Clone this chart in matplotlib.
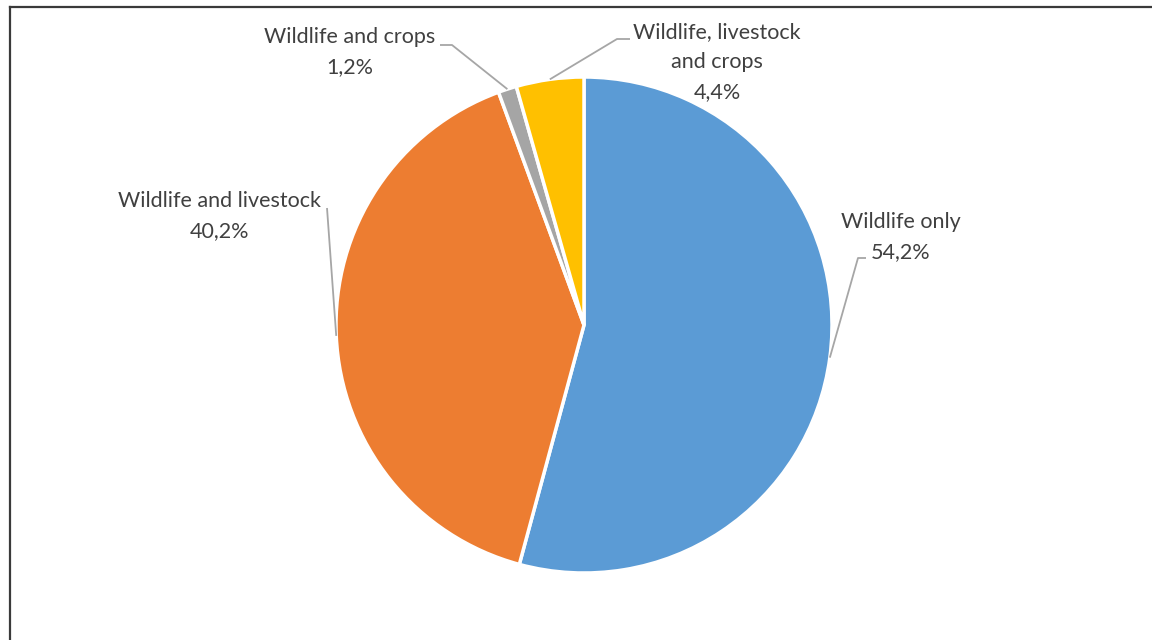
import numpy as np
import matplotlib
matplotlib.use('Agg')
import matplotlib.pyplot as plt
from matplotlib.lines import Line2D

categories = ['Wildlife only', 'Wildlife and livestock', 'Wildlife and crops',
              'Wildlife, livestock\nand crops']
shares = [54.2, 40.2, 1.2, 4.4]
colors = ['#5B9BD5', '#ED7D31', '#A5A5A5', '#FFC000']

W, H = 1152, 640
# pie centre / radius in pixels (y measured from top)
cx, cy, r = 584, 325, 248
# label block centres and leader elbows, pixels from top-left
label_xy = [(901, 237), (219, 216), (350, 52), (717, 62)]
elbow_xy = [(858, 258), (327, 208), (452, 45), (617, 39)]
tail_xy = [(866, 258), (327, 208), (440, 45), (630, 39)]

plt.rcParams['font.family'] = ['Lato', 'DejaVu Sans']

fig = plt.figure(figsize=(W / 100, H / 100), dpi=100)
ax = fig.add_axes([0, 0, 1, 1])

wedges, _ = ax.pie(shares, colors=colors, startangle=90, counterclock=False,
                   center=(cx, H - cy), radius=r,
                   wedgeprops=dict(edgecolor='white', linewidth=2.5))
ax.set_xlim(0, W)
ax.set_ylim(0, H)
ax.set_aspect('auto')
ax.axis('off')

for w, name, val, (lx, ly), (ex, ey), (tx, ty) in zip(
        wedges, categories, shares, label_xy, elbow_xy, tail_xy):
    mid = np.deg2rad((w.theta1 + w.theta2) / 2)
    px = cx + r * np.cos(mid)
    py = H - cy + r * np.sin(mid)
    ax.plot([px, ex, tx], [py, H - ey, H - ty], color='#A6A6A6', lw=1.3,
            solid_capstyle='butt', zorder=3)
    txt = f'{name}\n{val:.1f}%'.replace('.', ',')
    ax.text(lx, H - ly, txt, ha='center', va='center', fontsize=15.5,
            color='#404040', linespacing=1.65)

# chart frame (only top and left edges fall inside the image)
fig.add_artist(Line2D([10 / W, 1], [1 - 6.5 / H, 1 - 6.5 / H], color='#3A3A3A', lw=1.6))
fig.add_artist(Line2D([10 / W, 10 / W], [0, 1 - 6.5 / H], color='#3A3A3A', lw=1.6))

fig.savefig('out.png', dpi=100, facecolor='white')
